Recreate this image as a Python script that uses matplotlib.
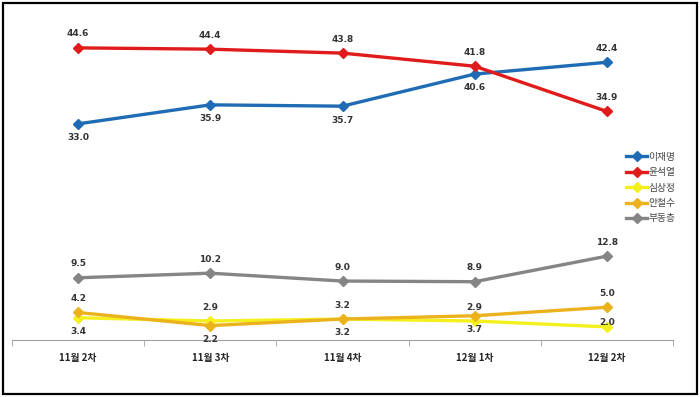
import matplotlib.pyplot as plt
from matplotlib.patches import Rectangle

plt.rcParams['font.family'] = ['Noto Sans CJK KR', 'DejaVu Sans']

rounds = ['11월 2차', '11월 3차', '11월 4차', '12월 1차', '12월 2차']
names = ['이재명', '윤석열', '심상정', '안철수', '부동층']
lee = [33.0, 35.9, 35.7, 40.6, 42.4]
yoon = [44.6, 44.4, 43.8, 41.8, 34.9]
sim = [3.4, 2.9, 3.2, 2.9, 2.0]
ahn = [4.2, 2.2, 3.2, 3.7, 5.0]
undecided = [9.5, 10.2, 9.0, 8.9, 12.8]
series = [lee, yoon, sim, ahn, undecided]
colors = ['#1f6cb4', '#e01b1b', '#f4f01e', '#ecb21e', '#858585']
# +1 label above the point, -1 below
label_side = [
    [-1, -1, -1, -1, 1],
    [1, 1, 1, 1, 1],
    [-1, 1, -1, 1, 0.35],
    [1, -1, 1, -1, 1],
    [1, 1, 1, 1, 1],
]

fig = plt.figure(figsize=(7, 3.97), dpi=100)
ax = fig.add_axes([12 / 700, 57 / 397, 661 / 700, 327.5 / 397])

x = range(len(rounds))
handles = []
for vals, c, side, name in zip(series, colors, label_side, names):
    h, = ax.plot(x, vals, color=c, lw=2.4, marker='D', ms=5, label=name, zorder=3)
    handles.append(h)
    for xi, v, s in zip(x, vals, side):
        ax.annotate(f'{v:.1f}', (xi, v), xytext=(0, 10 * s), textcoords='offset points',
                    ha='center', va='center', fontsize=6.5, fontweight='bold',
                    color='#333333', family=['DejaVu Sans'])

ax.set_xlim(-0.5, len(rounds) - 0.5)
ax.set_ylim(0, 50)
ax.set_yticks([])
for s in ['left', 'top', 'right']:
    ax.spines[s].set_visible(False)
ax.spines['bottom'].set_color('#a0a0a0')
ax.set_xticks(list(x))
ax.set_xticklabels(rounds, fontsize=7, fontweight='bold', color='#222222')
ax.tick_params(axis='x', which='major', length=0, pad=9)
ax.set_xticks([i - 0.5 for i in range(len(rounds) + 1)], minor=True)
ax.tick_params(axis='x', which='minor', length=4, color='#a0a0a0')

fig.legend(handles=handles, loc='upper left', bbox_to_anchor=(622 / 700, 1 - 148 / 397),
           frameon=False, fontsize=7, handlelength=2.2, handletextpad=0.1,
           labelspacing=0.55, borderaxespad=0, labelcolor='#444444')

fig.patches.append(Rectangle((3 / 700, 3 / 397), 694 / 700, 391 / 397, transform=fig.transFigure,
                             fill=False, edgecolor='black', lw=1.6))

fig.savefig('out.png', dpi=100)
